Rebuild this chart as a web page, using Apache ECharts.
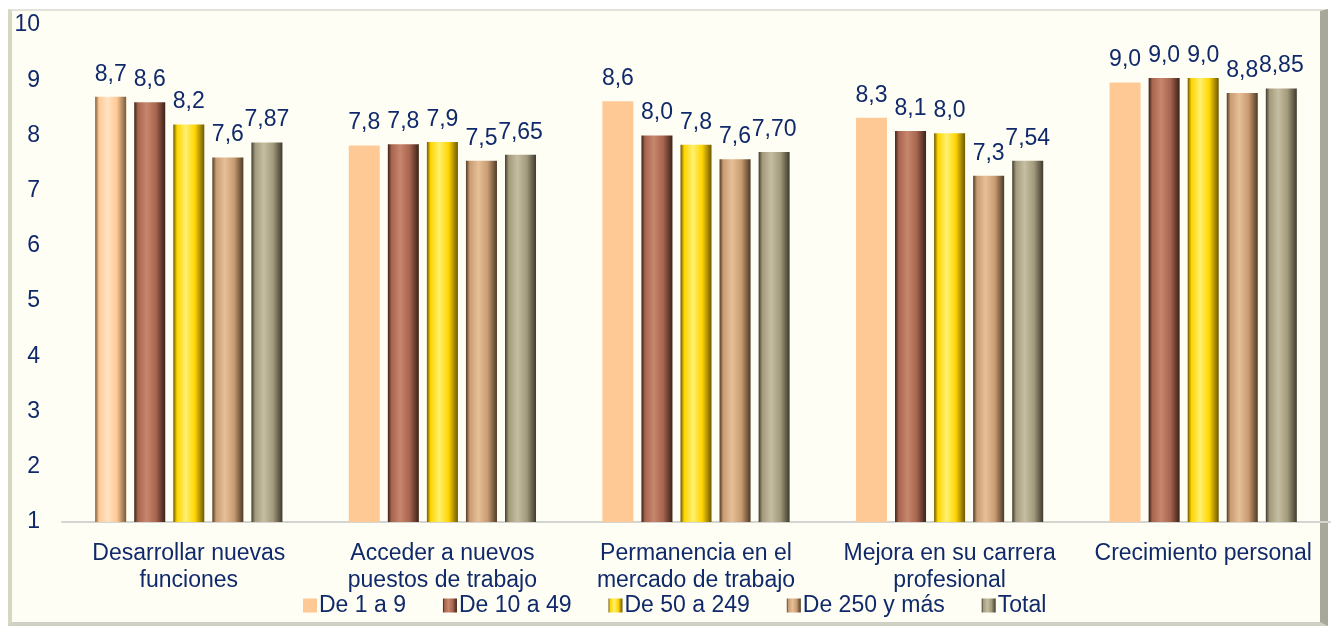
<!DOCTYPE html>
<html>
<head>
<meta charset="utf-8">
<script src="https://cdn.jsdelivr.net/npm/echarts@6/dist/echarts.min.js"></script>
<style>
html,body{margin:0;padding:0;background:#ffffff;width:1336px;height:633px;overflow:hidden;}
#frame{position:absolute;left:8px;top:9px;width:1320px;height:617px;background:#fefef4;
  border-top:2px solid #e2e2da;border-left:4px solid #d6d6c4;border-right:8px solid #a8a89a;border-bottom:4px solid #d0d0c4;
  box-sizing:border-box;}
#chart{position:absolute;left:0;top:0;width:1336px;height:633px;}
</style>
</head>
<body>
<div id="frame"></div>
<div id="chart"></div>
<script>
const categories = ['Desarrollar nuevas\nfunciones','Acceder a nuevos\npuestos de trabajo','Permanencia en el\nmercado de trabajo','Mejora en su carrera\nprofesional','Crecimiento personal'];
const seriesNames = ['De 1 a 9','De 10 a 49','De 50 a 249','De 250 y más','Total'];
const s1 = [8.7, 7.82, 8.62, 8.32, 8.96];
const s2 = [8.6, 7.84, 8.0, 8.08, 9.04];
const s3 = [8.2, 7.88, 7.83, 8.04, 9.04];
const s4 = [7.6, 7.54, 7.57, 7.27, 8.77];
const s5 = [7.87, 7.65, 7.70, 7.54, 8.85];
const decimals = [1, 1, 1, 1, 2];
const yTicks = [1,2,3,4,5,6,7,8,9,10];

const baseColors = ['#ffc996','#a8654f','#ffd500','#c99c72','#a39a7c'];
const lightColors = ['#ffe2c2','#c8866e','#fff070','#e6bf98','#c6bea2'];
const darkColors = ['#7a5a3a','#3c2218','#6e5800','#4e3a26','#3e3a2c'];
function grad(i){
  return new echarts.graphic.LinearGradient(0,0,1,0,[
    {offset:0,color:darkColors[i]},
    {offset:0.12,color:baseColors[i]},
    {offset:0.4,color:lightColors[i]},
    {offset:0.7,color:baseColors[i]},
    {offset:1,color:darkColors[i]}
  ]);
}
const allData = [s1,s2,s3,s4,s5];
const textColor = '#10296a';
const font = 'Liberation Sans, Arial, sans-serif';
const series = allData.map((arr, si) => ({
  name: seriesNames[si],
  type: 'bar',
  barWidth: 31,
  barGap: '26%',
  data: arr.map((v, di) => {
    const o = {value: v};
    if (si === 0) o.itemStyle = {color: di === 0 ? grad(0) : baseColors[0]};
    return o;
  }),
  itemStyle: {color: si === 0 ? baseColors[0] : grad(si)},
  label: {
    show: true, position: 'top', distance: 11,
    color: textColor, fontSize: 23, fontFamily: font,
    formatter: p => p.value.toFixed(decimals[si]).replace('.', ',')
  }
}));

const chart = echarts.init(document.getElementById('chart'));
chart.setOption({
  animation: false,
  backgroundColor: 'transparent',
  textStyle: {fontFamily: font},
  grid: {left: 62, right: 6, top: 25, bottom: 111},
  legend: {
    data: seriesNames.map((n, i) => ({name: n, itemStyle: {color: i === 0 ? baseColors[0] : grad(i)}})),
    top: 589, left: 298,
    icon: 'rect', itemWidth: 14, itemHeight: 14, itemGap: 37,
    textStyle: {color: textColor, fontSize: 23, fontFamily: 'Liberation Sans Narrow, Arial Narrow, Liberation Sans, sans-serif', padding: [0,0,0,-3]}
  },
  xAxis: {
    type: 'category', data: categories,
    axisLine: {lineStyle: {color: '#d4d4d0', width: 2}},
    axisTick: {show: false},
    axisLabel: {color: textColor, fontSize: 23, lineHeight: 27, margin: 18, interval: 0, fontFamily: font}
  },
  yAxis: {
    type: 'value', min: 1, max: 10, interval: 1,
    axisLine: {show: false}, axisTick: {show: false},
    splitLine: {show: false},
    axisLabel: {color: textColor, fontSize: 23, margin: 22, fontFamily: font,
      formatter: v => yTicks.includes(v) ? String(v) : ''}
  },
  series: series
});
</script>
</body>
</html>
